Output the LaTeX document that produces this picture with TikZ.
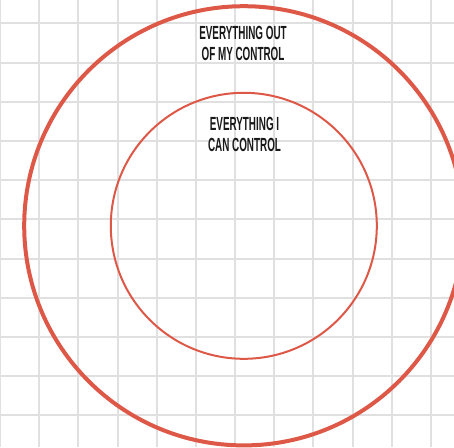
\documentclass[tikz,border=0pt]{standalone}
\usepackage{fontspec}
\setmainfont{Liberation Sans}[FakeStretch=0.52]
\definecolor{ringred}{RGB}{222,88,72}
\definecolor{gridgray}{RGB}{224,224,224}

\begin{document}
\begin{tikzpicture}[x=1pt, y=-1pt,
  every node/.style={align=center, text=black!90, font=\bfseries\fontsize{19}{21}\selectfont},
  ring/.style={draw=ringred}]
  \clip (0,0) rectangle (454,447);
  \fill[white] (0,0) rectangle (454,447);

  % grid paper
  \foreach \gx in {-1,...,10}
    \draw[gridgray, line width=2pt] (39.3+39.15*\gx,0) -- (39.3+39.15*\gx,447);
  \foreach \gy in {-1,...,11}
    \draw[gridgray, line width=2pt] (0,23.3+39.2*\gy) -- (454,23.3+39.2*\gy);

  \coordinate (mid) at (243.8,225.8);
  \draw[ring, line width=4pt] (mid) circle[radius=219.6];
  \draw[ring, line width=2pt] (mid) circle[radius=133];

  \node (outside) at (243,43) {EVERYTHING OUT\\OF MY CONTROL};
  \node (inside) at (244.5,134.5) {EVERYTHING I\\CAN CONTROL};
\end{tikzpicture}
\end{document}
